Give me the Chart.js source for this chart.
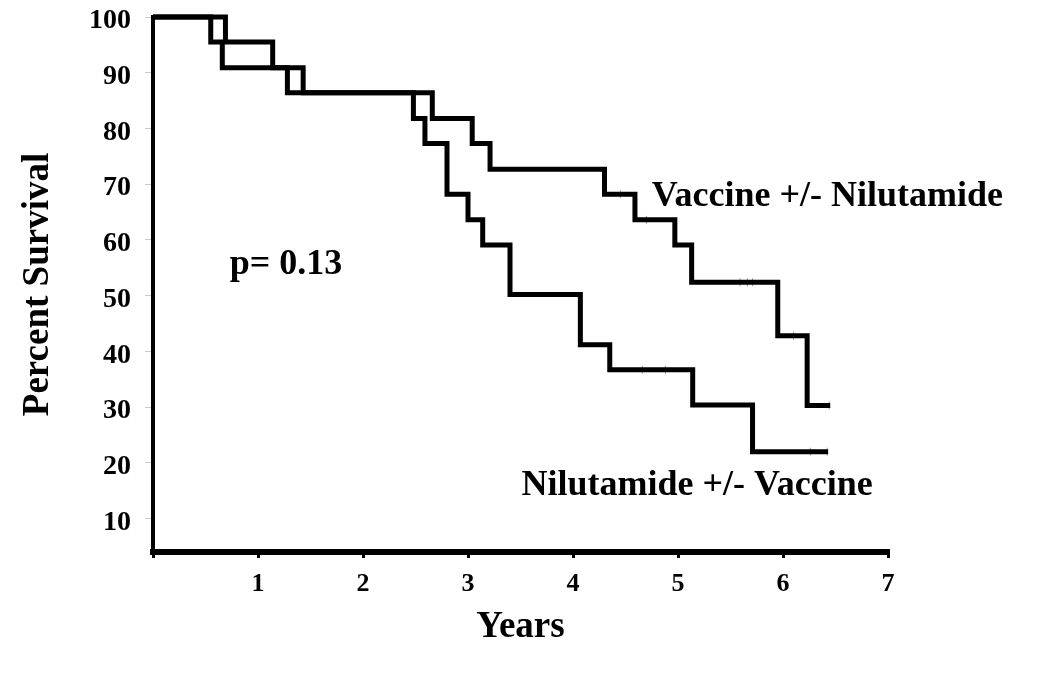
<!DOCTYPE html>
<html>
<head>
<meta charset="utf-8">
<script src="https://cdn.jsdelivr.net/npm/chart.js@4/dist/chart.umd.min.js"></script>
<style>
  html, body { margin: 0; padding: 0; background: #fff; }
  #wrap { width: 1050px; height: 680px; }
</style>
</head>
<body>
<div id="wrap"><canvas id="kmChart" width="1050" height="680"></canvas></div>
<script>
// survival data (years, percent)
const vaccineTimes    = [0, 0.69, 1.14, 1.28, 2.66, 3.04, 3.21, 4.30, 4.59, 4.97, 5.13, 5.95, 6.23, 6.45];
const vaccineSurvival = [100, 95.5, 90.9, 86.4, 81.8, 77.3, 72.7, 68.2, 63.6, 59.1, 52.4, 42.8, 30.3, 30.3];

const nilutamideTimes    = [0, 0.55, 0.66, 1.43, 2.48, 2.59, 2.80, 3.00, 3.14, 3.40, 4.07, 4.35, 5.14, 5.71, 6.43];
const nilutamideSurvival = [100, 95.5, 90.9, 86.4, 81.8, 77.3, 68.2, 63.6, 59.1, 50.2, 41.2, 36.7, 30.4, 22.0, 22.0];

// censored observations
const vaccineCensorTimes    = [4.45, 4.70, 5.59, 5.66, 5.71, 6.10, 6.44];
const vaccineCensorSurvival = [68.2, 63.6, 52.4, 52.4, 52.4, 42.8, 30.3];
const nilutamideCensorTimes    = [4.66, 4.88, 6.26, 6.42];
const nilutamideCensorSurvival = [36.7, 36.7, 22.0, 22.0];

const xTicks = [0, 1, 2, 3, 4, 5, 6, 7];
const yTicks = [10, 20, 30, 40, 50, 60, 70, 80, 90, 100];

// text placed on the plot (data coordinates, baseline)
const notes = [
    { text: 'Vaccine +/- Nilutamide', x: 4.75, y: 66.0 },
    { text: 'Nilutamide +/- Vaccine', x: 3.51, y: 14.3 },
    { text: 'p= 0.13', x: 0.73, y: 53.8 }
];

const FONT = "'Liberation Serif', 'Times New Roman', serif";

function toPoints(xs, ys) {
    return xs.map((x, i) => ({ x: x, y: ys[i] }));
}

const notesPlugin = {
    id: 'notes',
    afterDatasetsDraw(chart) {
        const ctx = chart.ctx;
        const xs = chart.scales.x;
        const ys = chart.scales.y;
        ctx.save();
        ctx.fillStyle = '#000';
        ctx.font = 'bold 36px ' + FONT;
        ctx.textAlign = 'left';
        ctx.textBaseline = 'alphabetic';
        notes.forEach(n => {
            ctx.fillText(n.text, xs.getPixelForValue(n.x), ys.getPixelForValue(n.y));
        });
        ctx.restore();
    }
};

const lineStyle = {
    type: 'line',
    stepped: 'before',
    borderColor: '#000',
    borderWidth: 5,
    pointRadius: 0,
    fill: false,
    clip: false
};

const censorStyle = {
    type: 'scatter',
    pointStyle: 'line',
    rotation: 90,
    radius: 4,
    borderColor: '#999',
    borderWidth: 1,
    clip: false
};

new Chart(document.getElementById('kmChart').getContext('2d'), {
    data: {
        datasets: [
            Object.assign({ label: 'Vaccine +/- Nilutamide', data: toPoints(vaccineTimes, vaccineSurvival) }, lineStyle),
            Object.assign({ label: 'Nilutamide +/- Vaccine', data: toPoints(nilutamideTimes, nilutamideSurvival) }, lineStyle),
            Object.assign({ label: 'censored (vaccine)', data: toPoints(vaccineCensorTimes, vaccineCensorSurvival) }, censorStyle),
            Object.assign({ label: 'censored (nilutamide)', data: toPoints(nilutamideCensorTimes, nilutamideCensorSurvival) }, censorStyle)
        ]
    },
    options: {
        responsive: false,
        animation: false,
        devicePixelRatio: 1,
        layout: { padding: { left: 16, top: 17, right: 162, bottom: 30 } },
        plugins: {
            legend: { display: false },
            tooltip: { enabled: false }
        },
        scales: {
            x: {
                type: 'linear',
                min: 0,
                max: 7,
                afterBuildTicks: s => { s.ticks = xTicks.map(v => ({ value: v })); },
                afterFit: s => { s.height = 98; s.paddingLeft = 0; s.paddingRight = 0; },
                border: { color: '#000', width: 6 },
                grid: { drawOnChartArea: false, drawTicks: true, tickLength: 6, color: '#000', lineWidth: 3 },
                ticks: {
                    color: '#000',
                    padding: 11,
                    font: { family: FONT, size: 26, weight: 'bold' },
                    callback: v => v === 0 ? '' : v
                },
                title: {
                    display: true,
                    text: 'Years',
                    color: '#000',
                    padding: 0,
                    font: { family: FONT, size: 37, weight: 'bold' }
                }
            },
            y: {
                type: 'linear',
                min: 4,
                max: 100,
                afterBuildTicks: s => { s.ticks = yTicks.map(v => ({ value: v })); },
                afterFit: s => { s.width = 137; s.paddingTop = 0; s.paddingBottom = 0; },
                border: { color: '#000', width: 4 },
                grid: { drawOnChartArea: false, drawTicks: true, tickLength: 8, color: '#ccc', lineWidth: 1 },
                ticks: {
                    color: '#000',
                    padding: 14,
                    labelOffset: 4,
                    font: { family: FONT, size: 28, weight: 'bold' }
                },
                title: {
                    display: true,
                    text: 'Percent Survival',
                    color: '#000',
                    padding: 0,
                    font: { family: FONT, size: 37, weight: 'bold' }
                }
            }
        }
    },
    plugins: [notesPlugin]
});
</script>
</body>
</html>
